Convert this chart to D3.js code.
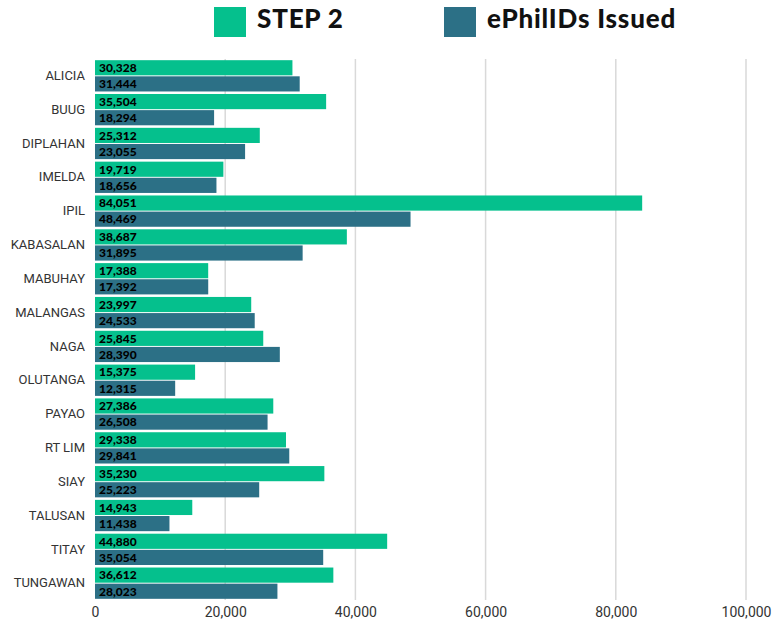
<!DOCTYPE html>
<html>
<head>
<meta charset="utf-8">
<script src="https://cdn.jsdelivr.net/npm/d3@7"></script>
<style>
  body { margin: 0; background: #fff; }
</style>
</head>
<body>
<svg id="chart" width="782" height="621"></svg>
<script>
const municipalities = ["ALICIA", "BUUG", "DIPLAHAN", "IMELDA", "IPIL", "KABASALAN", "MABUHAY", "MALANGAS",
  "NAGA", "OLUTANGA", "PAYAO", "RT LIM", "SIAY", "TALUSAN", "TITAY", "TUNGAWAN"]
const step2 = [30328, 35504, 25312, 19719, 84051, 38687, 17388, 23997,
  25845, 15375, 27386, 29338, 35230, 14943, 44880, 36612]
const ephilids = [31444, 18294, 23055, 18656, 48469, 31895, 17392, 24533,
  28390, 12315, 26508, 29841, 25223, 11438, 35054, 28023]
const seriesNames = ["STEP 2", "ePhilIDs Issued"]
const seriesColors = ["#05c08d", "#2c7086"]
const xTicks = [0, 20000, 40000, 60000, 80000, 100000]

const width = 782
const height = 621
const margin = {top: 59, left: 95, right: 36, bottom: 21}

const svg = d3.select("#chart")

// rows for the bars
const rows = municipalities.map((m, i) => ({name: m, values: [step2[i], ephilids[i]]}))

const x = d3.scaleLinear().domain([0, 100000]).range([margin.left, width - margin.right])
const y = d3.scaleBand().domain(municipalities)
  .range([margin.top, height - margin.bottom])
  .paddingInner(0.075).paddingOuter(0.035)
const ySub = d3.scaleBand().domain([0, 1]).range([0, y.bandwidth()]).paddingInner(0.06)

// gridlines
svg.append("g")
  .selectAll("line")
  .data(xTicks.slice(1))
  .join("line")
  .attr("x1", d => x(d)).attr("x2", d => x(d))
  .attr("y1", margin.top).attr("y2", height - margin.bottom)
  .attr("stroke", "#d9d9d9")
  .attr("stroke-width", 1.5)

// x axis
const xAxis = d3.axisBottom(x).tickValues(xTicks).tickFormat(d3.format(",")).tickSize(0)
svg.append("g")
  .attr("class", "x_axis")
  .attr("transform", `translate(0,${height - margin.bottom})`)
  .call(xAxis)
  .call(g => g.select(".domain").remove())
  .selectAll("text")
  .attr("dy", "1.0em")
  .attr("font-family", "Roboto, sans-serif")
  .attr("font-size", 14)
  .attr("fill", "#333")

// y axis
const yAxis = d3.axisLeft(y).tickSize(0).tickPadding(10)
svg.append("g")
  .attr("class", "y_axis")
  .attr("transform", `translate(${margin.left},0)`)
  .call(yAxis)
  .call(g => g.select(".domain").remove())
  .selectAll("text")
  .attr("font-family", "Roboto, sans-serif")
  .attr("font-size", 13)
  .attr("fill", "#333")

// bars
const groups = svg.append("g").selectAll("g")
  .data(rows)
  .join("g")
  .attr("transform", d => `translate(0,${y(d.name)})`)

groups.selectAll("rect")
  .data(d => d.values.map((v, k) => ({k, v})))
  .join("rect")
  .attr("x", x(0))
  .attr("y", d => ySub(d.k))
  .attr("width", d => x(d.v) - x(0))
  .attr("height", ySub.bandwidth())
  .attr("fill", d => seriesColors[d.k])

groups.selectAll("text")
  .data(d => d.values.map((v, k) => ({k, v})))
  .join("text")
  .attr("x", x(0) + 4)
  .attr("y", d => ySub(d.k) + ySub.bandwidth() / 2)
  .attr("dy", "0.36em")
  .attr("font-family", "Lato, sans-serif")
  .attr("font-weight", 900)
  .attr("font-size", 12)
  .attr("fill", "#000")
  .text(d => d3.format(",")(d.v))

// legend
const legendX = [214, 444]
const legend = svg.append("g").selectAll("g")
  .data(seriesNames)
  .join("g")
  .attr("transform", (d, i) => `translate(${legendX[i]},7)`)

legend.append("rect")
  .attr("width", 32).attr("height", 30)
  .attr("fill", (d, i) => seriesColors[i])

legend.append("text")
  .attr("x", 43)
  .attr("y", 21)
  .attr("font-family", "Lato, sans-serif")
  .attr("font-weight", 900)
  .attr("font-size", 26)
  .attr("letter-spacing", 0.8)
  .attr("fill", "#111")
  .text(d => d)
</script>
</body>
</html>
